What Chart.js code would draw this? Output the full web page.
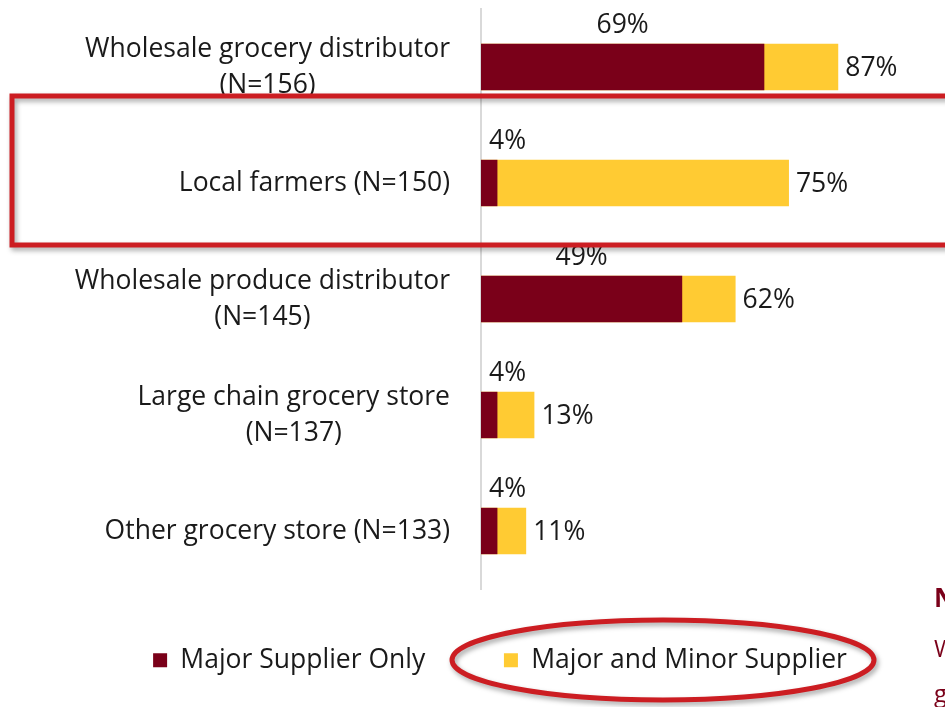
<!DOCTYPE html>
<html lang="en">
<head>
    <meta charset="UTF-8">
    <title>Supplier types</title>
    <script src="https://cdn.jsdelivr.net/npm/chart.js"></script>
    <style>
        body { margin: 0; background: #fff; }
        canvas { display: block; }
    </style>
</head>
<body>
    <canvas id="supplierChart" width="945" height="707"></canvas>

    <script>
        // data
        const categories = [
            ['Wholesale grocery distributor', '(N=156)'],
            ['Local farmers (N=150)'],
            ['Wholesale produce distributor', '(N=145)'],
            ['Large chain grocery store', '(N=137)'],
            ['Other grocery store (N=133)']
        ];
        const majorOnly = [69, 4, 49, 4, 4];
        const majorAndMinor = [87, 75, 62, 13, 11];
        const seriesNames = ['Major Supplier Only', 'Major and Minor Supplier'];

        const FONT = '"Open Sans"';
        const FSIZE = 26.5;
        const TEXT = '#1a1a1a';
        const DARKRED = '#7a0019';
        const YELLOW = '#ffcb33';
        const ANNOT = '#cc1d22';
        const PADL = 55;

        // value labels + category labels
        const labelPlugin = {
            id: 'labels',
            afterDatasetsDraw(chart) {
                let ctx = chart.ctx;
                let m0 = chart.getDatasetMeta(0);
                let m1 = chart.getDatasetMeta(1);
                ctx.save();
                ctx.font = `${FSIZE}px ${FONT}`;
                ctx.fillStyle = TEXT;
                ctx.textBaseline = 'middle';

                m0.data.forEach((bar, i) => {
                    let txt = majorOnly[i] + '%';
                    let w = ctx.measureText(txt).width;
                    let x = Math.max((bar.base + bar.x) / 2, bar.base + 8 + w / 2);
                    ctx.textAlign = 'center';
                    ctx.fillText(txt, x, bar.y - bar.height / 2 - 18);
                });
                m1.data.forEach((bar, i) => {
                    ctx.textAlign = 'left';
                    ctx.fillText(majorAndMinor[i] + '%', bar.x + 7, bar.y + 1);
                });

                // category names, lines centred on each other, block right aligned
                let right = chart.chartArea.left - 31;
                categories.forEach((lines, i) => {
                    let y = m0.data[i].y;
                    let maxW = Math.max(...lines.map(l => ctx.measureText(l).width));
                    let cx = right - maxW / 2;
                    ctx.textAlign = 'center';
                    lines.forEach((l, j) => {
                        let off = (j - (lines.length - 1) / 2) * 36;
                        ctx.fillText(l, cx, y + off);
                    });
                });
                ctx.restore();
            },
            afterDraw(chart) {
                let ctx = chart.ctx;
                ctx.save();
                // highlight box and ellipse
                ctx.shadowColor = 'rgba(0,0,0,0.35)';
                ctx.shadowBlur = 5;
                ctx.shadowOffsetX = 2;
                ctx.shadowOffsetY = 3;
                ctx.strokeStyle = ANNOT;
                ctx.lineWidth = 5;
                ctx.strokeRect(12, 96, 960, 149);
                ctx.beginPath();
                ctx.ellipse(663, 660, 211, 40, 0, 0, Math.PI * 2);
                ctx.stroke();
                ctx.restore();

                // cut-off text at the right edge
                ctx.save();
                ctx.fillStyle = DARKRED;
                ctx.font = `bold 26px ${FONT}`;
                ctx.textBaseline = 'middle';
                ctx.textAlign = 'left';
                ctx.fillText('N', 934, 600);
                ctx.font = `24px ${FONT}`;
                ctx.fillText('W', 934, 650);
                ctx.fillText('g', 934, 695);
                ctx.restore();
            }
        };

        let ctx = document.getElementById('supplierChart').getContext('2d');
        new Chart(ctx, {
            type: 'bar',
            data: {
                labels: categories,
                datasets: [
                    {
                        label: seriesNames[0],
                        data: majorOnly,
                        backgroundColor: DARKRED,
                        grouped: false,
                        order: 0
                    },
                    {
                        label: seriesNames[1],
                        data: majorAndMinor,
                        backgroundColor: YELLOW,
                        grouped: false,
                        order: 1
                    }
                ]
            },
            options: {
                indexAxis: 'y',
                responsive: false,
                animation: false,
                categoryPercentage: 1,
                barPercentage: 0.4,
                layout: { padding: { top: 9, left: PADL, right: 0, bottom: 23.5 } },
                scales: {
                    x: { display: false, min: 0, max: 113 },
                    y: {
                        grid: { display: false },
                        border: { display: true, color: '#d9d9d9', width: 2 },
                        ticks: { display: false },
                        afterFit(scale) { scale.width = 481 - PADL; }
                    }
                },
                plugins: {
                    tooltip: { enabled: false },
                    legend: {
                        position: 'bottom',
                        labels: {
                            boxWidth: 14,
                            boxHeight: 14,
                            padding: 58,
                            color: TEXT,
                            font: { family: 'Open Sans', size: FSIZE },
                            generateLabels(chart) {
                                let items = Chart.defaults.plugins.legend.labels.generateLabels(chart);
                                // a bit more room between the two entries
                                items[0].text = items[0].text + '   ';
                                return items;
                            }
                        }
                    }
                }
            },
            plugins: [labelPlugin]
        });
    </script>
</body>
</html>
